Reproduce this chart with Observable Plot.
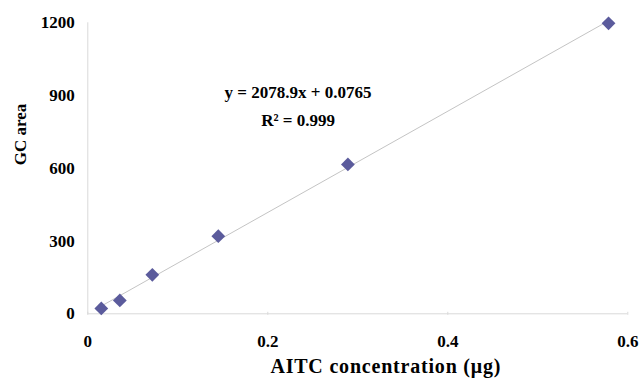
<!DOCTYPE html>
<html>
<head>
<meta charset="utf-8">
<script src="https://cdn.jsdelivr.net/npm/d3@7"></script>
<script src="https://cdn.jsdelivr.net/npm/@observablehq/plot@0.6"></script>
<style>
  html, body { margin: 0; padding: 0; background: #fff; }
  svg { display: block; }
</style>
</head>
<body>
<div id="chart"></div>
<script>
// Data
const concentration = [0.0150, 0.0356, 0.0717, 0.1450, 0.2890, 0.5786];
const gcArea = [22, 55, 161, 320, 616, 1198];
const xTicks = [0, 0.2, 0.4, 0.6];
const yTicks = [0, 300, 600, 900, 1200];
const equationLines = ["y = 2078.9x + 0.0765", "R² = 0.999"];
const xLabel = "AITC concentration (μg)";
const yLabel = "GC area";

const points = concentration.map((c, i) => ({x: c, y: gcArea[i]}));
const eqPos = [{x: 0.2336, y: 912, t: equationLines[0]}, {x: 0.2336, y: 797, t: equationLines[1]}];

const font = "'Liberation Serif', 'Times New Roman', serif";
const axisColor = "#d9d9d9";

const chart = Plot.plot({
  width: 640,
  height: 381,
  marginLeft: 87.3,
  marginRight: 12.7,
  marginTop: 22.3,
  marginBottom: 67.7,
  style: {fontFamily: font, fontSize: "17px", fontWeight: "bold", color: "#000", background: "#fff"},
  x: {domain: [0, 0.6], ticks: xTicks},
  y: {domain: [0, 1200], ticks: yTicks},
  marks: [
    Plot.ruleX([0], {stroke: axisColor, strokeWidth: 1}),
    Plot.ruleY([0], {stroke: axisColor, strokeWidth: 1}),
    Plot.axisX(xTicks, {tickSize: 3, stroke: axisColor, text: null, dy: -1.5, label: null}),
    Plot.axisX(xTicks, {tickSize: 0, tickPadding: 21, tickFormat: d => String(d), label: null, fill: "#000"}),
    Plot.axisY(yTicks, {tickSize: 0, tickPadding: 13, tickFormat: d => String(d), label: null, fill: "#000"}),
    Plot.linearRegressionY(points, {x: "x", y: "y", ci: 0, stroke: "#c4c4c4", strokeWidth: 1}),
    Plot.dot(points, {x: "x", y: "y", symbol: "diamond2", r: 6.2, fill: "#5b5b9c", stroke: "none"}),
    Plot.text(eqPos, {x: "x", y: "y", text: "t", fontSize: 17, fontWeight: "bold", fill: "#000"}),
    Plot.text([xLabel], {frameAnchor: "bottom", dx: 28, dy: 59, text: d => d, fontSize: 20, fontWeight: "bold", fill: "#000", style: "letter-spacing:0.8px"}),
    Plot.text([yLabel], {frameAnchor: "left", dx: -67, dy: -3, rotate: -90, text: d => d, fontSize: 17, fontWeight: "bold", fill: "#000"})
  ]
});
document.getElementById("chart").appendChild(chart);
// letter spacing for x-axis title
d3.select(chart).selectAll("text").filter(function() { return this.textContent === xLabel; }).style("letter-spacing", "0.8px");
</script>
</body>
</html>
